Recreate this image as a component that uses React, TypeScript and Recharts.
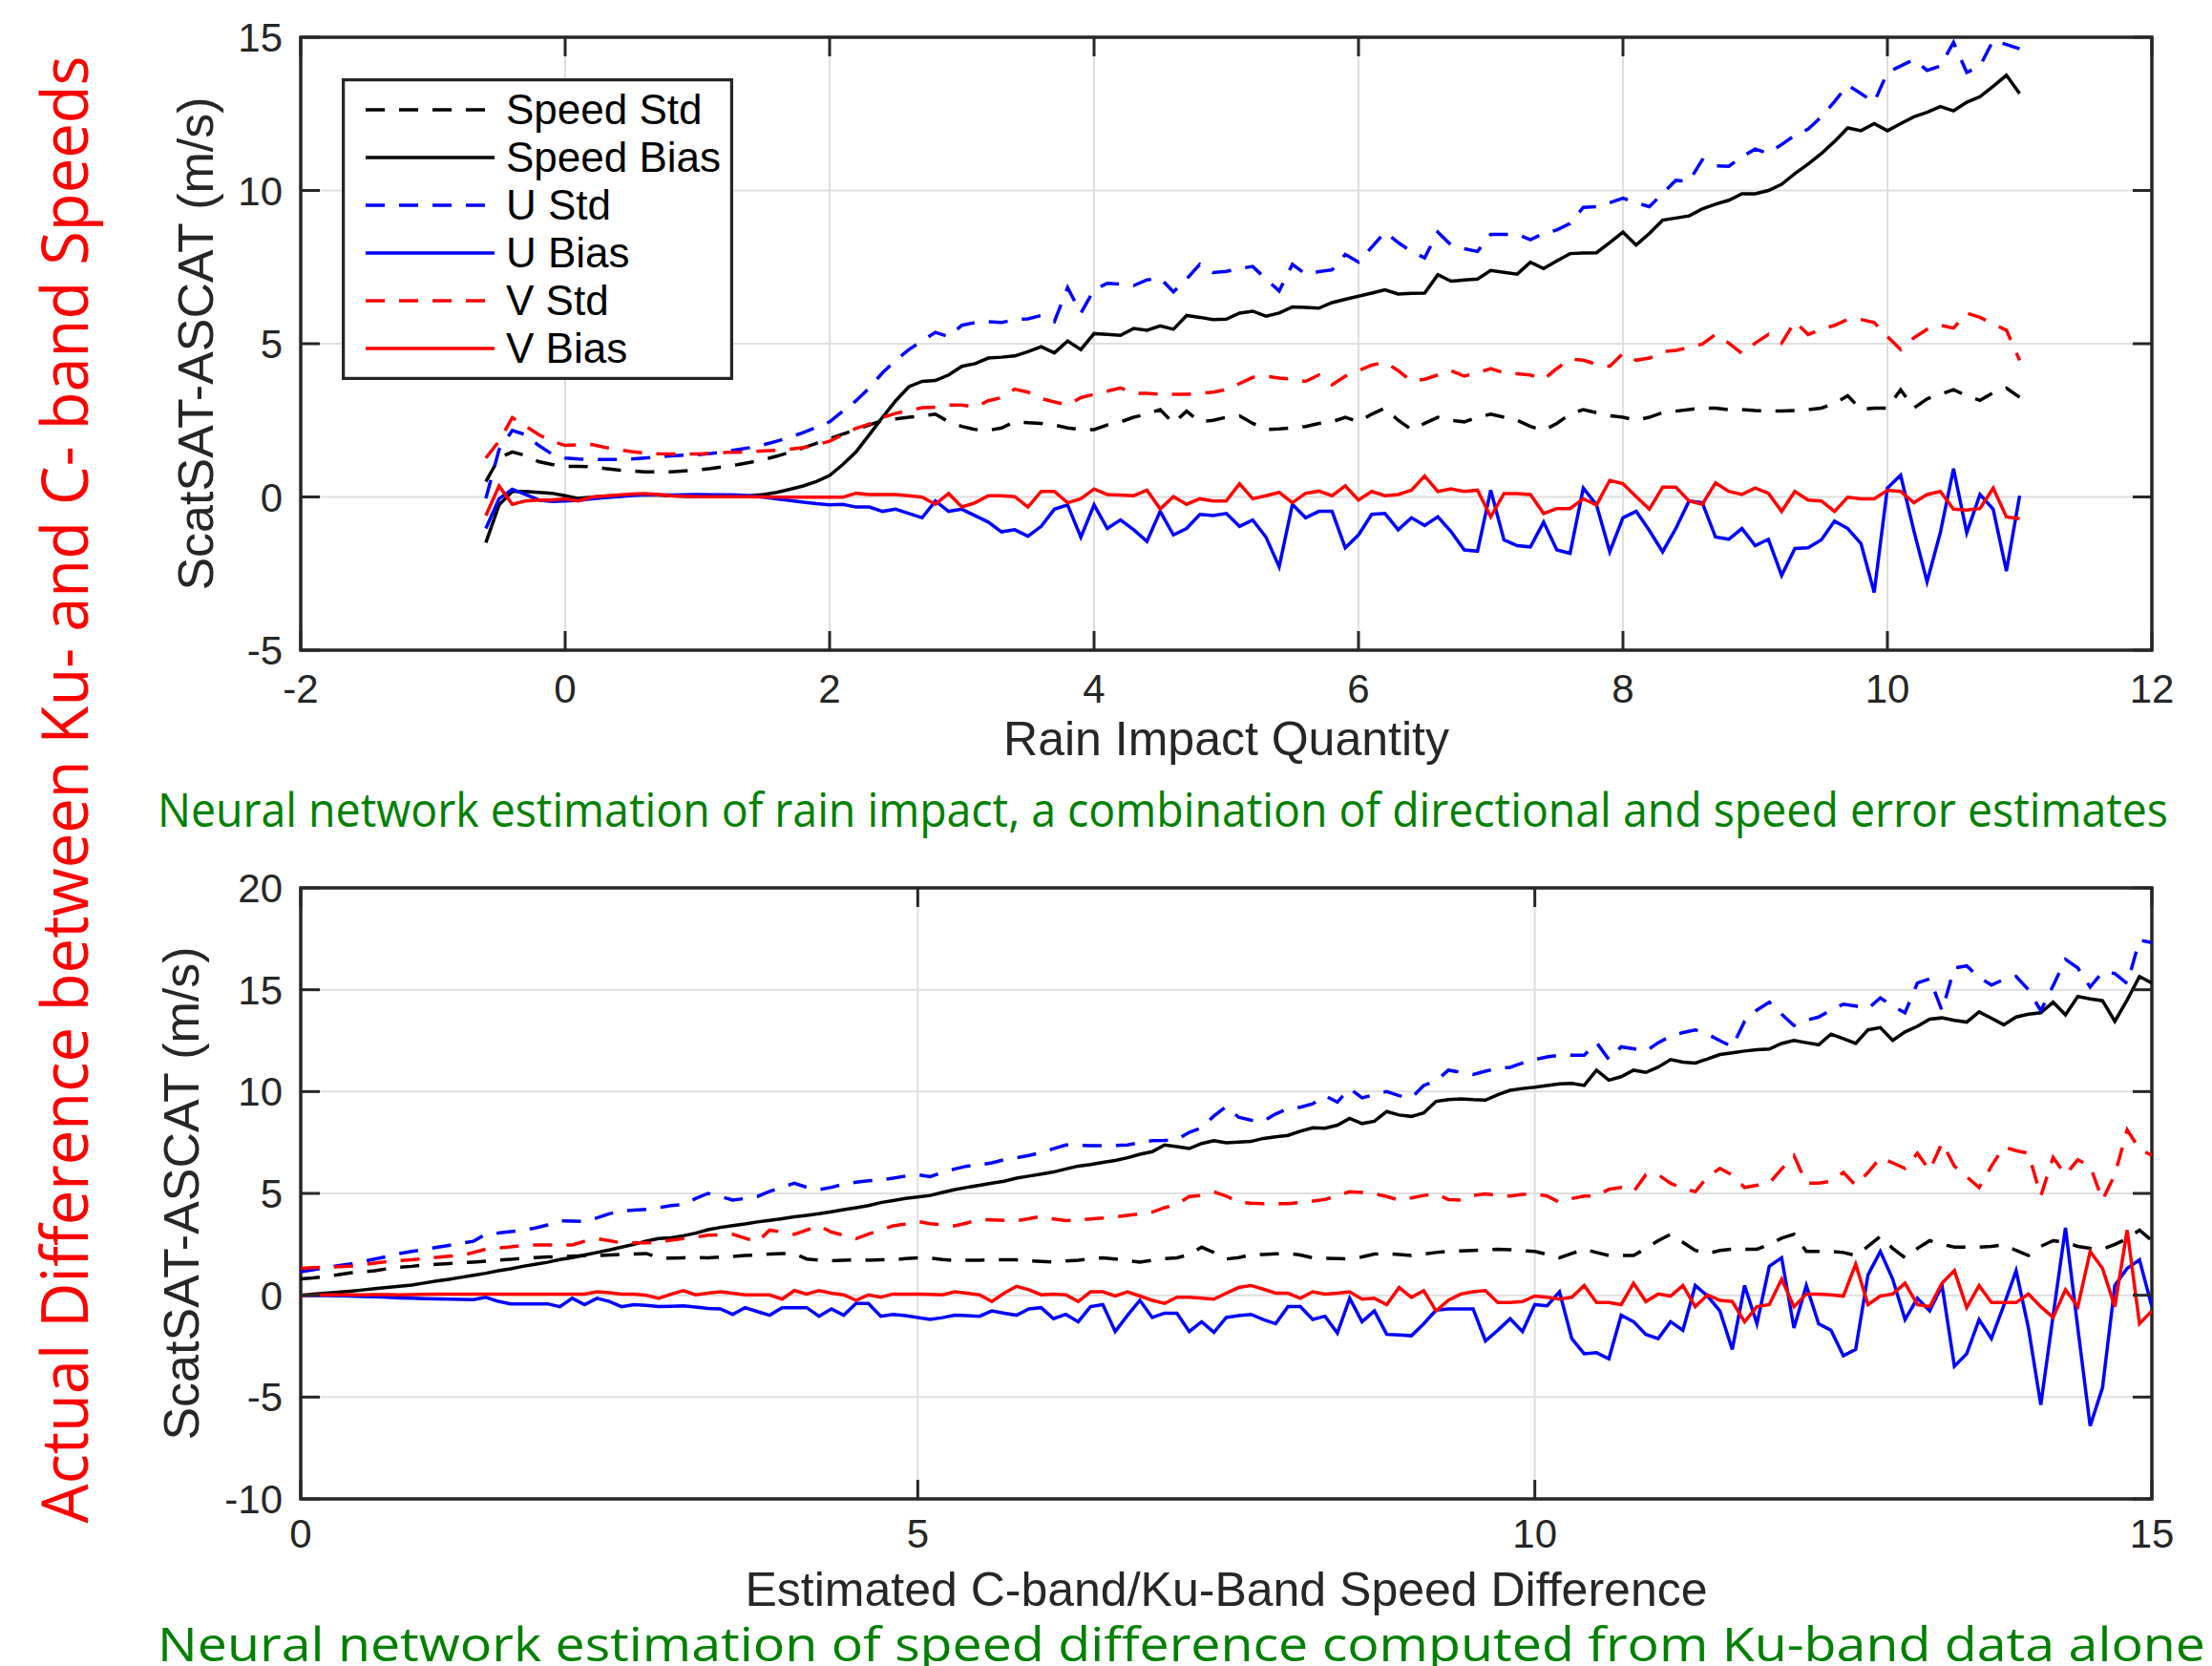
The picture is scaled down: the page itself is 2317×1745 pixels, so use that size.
import { LineChart, Line, XAxis, YAxis, CartesianGrid, ReferenceArea, Legend } from 'recharts';

const W = 2317;
const H = 1745;
const PLOT_LEFT = 315;
const PLOT_RIGHT = 2254;
const AXIS_COLOR = '#262626';
const AXIS_FONT = '"Liberation Sans", Arial, Helvetica, sans-serif';
const NOTE_FONT = '"Open Sans", "Noto Sans", sans-serif';

// ---- top panel: rain impact quantity ----
const rainX = [
  -0.6, -0.5, -0.4, -0.3, -0.2, -0.1, 0, 0.1, 0.2, 0.3,
  0.4, 0.5, 0.6, 0.7, 0.8, 0.9, 1.0, 1.1, 1.2, 1.3,
  1.4, 1.5, 1.6, 1.7, 1.8, 1.9, 2.0, 2.1, 2.2, 2.3,
  2.4, 2.5, 2.6, 2.7, 2.8, 2.9, 3.0, 3.1, 3.2, 3.3,
  3.4, 3.5, 3.6, 3.7, 3.8, 3.9, 4.0, 4.1, 4.2, 4.3,
  4.4, 4.5, 4.6, 4.7, 4.8, 4.9, 5.0, 5.1, 5.2, 5.3,
  5.4, 5.5, 5.6, 5.7, 5.8, 5.9, 6.0, 6.1, 6.2, 6.3,
  6.4, 6.5, 6.6, 6.7, 6.8, 6.9, 7.0, 7.1, 7.2, 7.3,
  7.4, 7.5, 7.6, 7.7, 7.8, 7.9, 8.0, 8.1, 8.2, 8.3,
  8.4, 8.5, 8.6, 8.7, 8.8, 8.9, 9.0, 9.1, 9.2, 9.3,
  9.4, 9.5, 9.6, 9.7, 9.8, 9.9, 10.0, 10.1, 10.2, 10.3,
  10.4, 10.5, 10.6, 10.7, 10.8, 10.9, 11.0,
];
const rainSpeedStd = [
  0.5, 1.27, 1.47, 1.35, 1.15, 1.06, 1.0, 1.0, 0.98, 0.93,
  0.88, 0.85, 0.82, 0.82, 0.82, 0.85, 0.88, 0.93, 0.99, 1.05,
  1.13, 1.22, 1.33, 1.46, 1.6, 1.75, 1.9, 2.05, 2.2, 2.35,
  2.5, 2.55, 2.6, 2.65, 2.7, 2.45, 2.3, 2.2, 2.17, 2.25,
  2.45, 2.42, 2.4, 2.35, 2.25, 2.2, 2.2, 2.35, 2.45, 2.6,
  2.7, 2.85, 2.4, 2.8, 2.45, 2.5, 2.6, 2.65, 2.4, 2.2,
  2.22, 2.25, 2.3, 2.4, 2.45, 2.6, 2.45, 2.7, 2.9, 2.5,
  2.2, 2.4, 2.6, 2.5, 2.45, 2.6, 2.7, 2.6, 2.5, 2.3,
  2.17, 2.4, 2.7, 2.85, 2.75, 2.65, 2.6, 2.5, 2.6, 2.75,
  2.8, 2.85, 2.9, 2.9, 2.85, 2.85, 2.82, 2.8, 2.8, 2.82,
  2.85, 2.9, 3.05, 3.3, 2.85, 2.9, 2.9, 3.5, 2.9, 3.2,
  3.35, 3.5, 3.3, 3.15, 3.4, 3.55, 3.25,
];
const rainSpeedBias = [
  -1.49, -0.26, 0.18, 0.18, 0.15, 0.12, 0.04, -0.05, -0.01, 0.02,
  0.04, 0.06, 0.07, 0.06, 0.04, 0.02, 0.01, 0.01, 0.01, 0.02,
  0.04, 0.08, 0.15, 0.25, 0.36, 0.5, 0.7, 1.06, 1.47, 2.03,
  2.6, 3.14, 3.6, 3.77, 3.8, 3.98, 4.26, 4.35, 4.53, 4.56,
  4.6, 4.74, 4.9, 4.7, 5.09, 4.81, 5.33, 5.3, 5.27, 5.5,
  5.44, 5.58, 5.47, 5.92, 5.86, 5.79, 5.8, 6.0, 6.06, 5.9,
  6.0, 6.2, 6.18, 6.16, 6.34, 6.45, 6.55, 6.65, 6.76, 6.62,
  6.64, 6.65, 7.25, 7.04, 7.08, 7.11, 7.39, 7.33, 7.27, 7.66,
  7.45, 7.7, 7.94, 7.96, 7.97, 8.3, 8.64, 8.22, 8.6, 9.03,
  9.1, 9.17, 9.4, 9.55, 9.68, 9.89, 9.89, 10.0, 10.2, 10.55,
  10.86, 11.2, 11.6, 12.04, 11.95, 12.18, 11.95, 12.18, 12.4, 12.55,
  12.74, 12.6, 12.88, 13.06, 13.4, 13.76, 13.16,
];
const rainUStd = [
  -0.05, 1.54, 2.17, 2.03, 1.68, 1.4, 1.27, 1.24, 1.22, 1.22,
  1.22, 1.24, 1.27, 1.3, 1.34, 1.36, 1.38, 1.42, 1.47, 1.54,
  1.61, 1.7, 1.82, 1.95, 2.1, 2.27, 2.45, 2.8, 3.14, 3.56,
  4.05, 4.46, 4.81, 5.09, 5.37, 5.23, 5.6, 5.69, 5.72, 5.69,
  5.79, 5.81, 5.92, 5.72, 6.83, 6.0, 6.76, 6.97, 6.94, 6.9,
  7.08, 7.14, 6.69, 7.11, 7.59, 7.32, 7.36, 7.45, 7.52, 7.11,
  6.72, 7.59, 7.27, 7.35, 7.41, 7.91, 7.66, 8.15, 8.64, 8.3,
  8.01, 7.8, 8.64, 8.22, 8.1, 8.01, 8.57, 8.57, 8.57, 8.39,
  8.6, 8.71, 8.92, 9.45, 9.47, 9.6, 9.75, 9.6, 9.47, 9.9,
  10.33, 10.3, 11.0, 10.8, 10.79, 11.1, 11.35, 11.21, 11.5, 11.8,
  12.0, 12.4, 12.9, 13.44, 13.16, 12.88, 13.85, 14.06, 14.27, 13.92,
  14.06, 14.83, 13.85, 14.06, 14.9, 14.76, 14.62,
];
const rainUBias = [
  -1.03, -0.06, 0.25, 0.08, -0.1, -0.15, -0.13, -0.11, -0.06, -0.02,
  0.01, 0.05, 0.08, 0.07, 0.06, 0.07, 0.08, 0.07, 0.07, 0.06,
  0.04, -0.01, -0.06, -0.12, -0.17, -0.22, -0.26, -0.24, -0.33, -0.33,
  -0.47, -0.4, -0.54, -0.68, -0.13, -0.47, -0.4, -0.61, -0.82, -1.14,
  -1.07, -1.28, -0.96, -0.4, -0.26, -1.31, -0.26, -1.03, -0.75, -1.07,
  -1.45, -0.47, -1.24, -1.03, -0.57, -0.61, -0.54, -0.96, -0.75, -1.31,
  -2.28, -0.24, -0.68, -0.47, -0.47, -1.66, -1.24, -0.57, -0.54, -1.07,
  -0.68, -0.93, -0.65, -1.13, -1.73, -1.77, 0.22, -1.4, -1.59, -1.63,
  -0.82, -1.73, -1.84, 0.29, -0.26, -1.79, -0.68, -0.47, -1.1, -1.79,
  -1.03, -0.13, -0.19, -1.31, -1.38, -1.03, -1.59, -1.38, -2.56, -1.68,
  -1.66, -1.4, -0.79, -1.03, -1.52, -3.12, 0.29, 0.71, -1.1, -2.77,
  -1.17, 0.92, -1.17, 0.08, -0.4, -2.42, 0.04,
];
const rainVStd = [
  1.27, 1.82, 2.59, 2.31, 2.03, 1.82, 1.68, 1.7, 1.71, 1.62,
  1.54, 1.48, 1.43, 1.41, 1.4, 1.4, 1.4, 1.42, 1.45, 1.46,
  1.47, 1.5, 1.52, 1.56, 1.61, 1.7, 1.82, 2.03, 2.24, 2.38,
  2.59, 2.73, 2.82, 2.91, 2.93, 3.0, 3.0, 2.93, 3.14, 3.24,
  3.52, 3.42, 3.21, 3.1, 3.0, 3.24, 3.35, 3.45, 3.56, 3.38,
  3.38, 3.35, 3.35, 3.35, 3.38, 3.42, 3.5, 3.7, 3.9, 3.94,
  3.88, 3.84, 3.77, 3.98, 3.66, 3.94, 4.12, 4.3, 4.4, 4.12,
  3.77, 3.84, 3.98, 4.12, 3.94, 4.05, 4.19, 4.05, 4.02, 3.98,
  3.84, 4.19, 4.5, 4.46, 4.33, 4.26, 4.68, 4.46, 4.53, 4.74,
  4.78, 4.88, 4.99, 5.3, 5.02, 4.68, 5.02, 5.3, 5.02, 5.72,
  5.3, 5.47, 5.6, 5.79, 5.79, 5.69, 5.23, 4.81, 5.19, 5.47,
  5.6, 5.51, 6.0, 5.86, 5.65, 5.44, 4.46,
];
const rainVBias = [
  -0.61, 0.36, -0.24, -0.13, -0.1, -0.1, -0.06, -0.13, -0.01, 0.03,
  0.06, 0.09, 0.11, 0.08, 0.04, 0.02, 0.01, 0.01, 0.01, 0.01,
  0.01, 0.0, -0.01, -0.01, -0.01, -0.01, -0.01, -0.01, 0.12, 0.08,
  0.08, 0.08, 0.04, -0.01, -0.24, 0.11, -0.33, -0.19, 0.04, 0.04,
  0.01, -0.33, 0.18, 0.18, -0.19, -0.06, 0.26, 0.08, 0.06, 0.04,
  0.22, -0.39, 0.01, -0.24, -0.06, -0.13, -0.13, 0.43, -0.06, 0.04,
  0.15, -0.19, 0.12, 0.19, 0.04, 0.36, -0.1, 0.18, 0.04, 0.08,
  0.22, 0.68, 0.18, 0.26, 0.18, 0.22, -0.65, 0.11, 0.11, 0.08,
  -0.54, -0.38, -0.38, -0.06, -0.26, 0.54, 0.43, 0.01, -0.4, 0.32,
  0.32, -0.13, -0.24, 0.46, 0.18, 0.08, 0.29, 0.12, -0.47, 0.18,
  -0.1, -0.13, -0.47, -0.01, -0.06, -0.06, 0.22, 0.18, -0.19, 0.08,
  0.18, -0.4, -0.43, -0.38, 0.29, -0.65, -0.71,
];

// ---- bottom panel: estimated C-band/Ku-band speed difference ----
const diffX = [
  0, 0.1, 0.2, 0.3, 0.4, 0.5, 0.6, 0.7, 0.8, 0.9,
  1.0, 1.1, 1.2, 1.3, 1.4, 1.5, 1.6, 1.7, 1.8, 1.9,
  2.0, 2.1, 2.2, 2.3, 2.4, 2.5, 2.6, 2.7, 2.8, 2.9,
  3.0, 3.1, 3.2, 3.3, 3.4, 3.5, 3.6, 3.7, 3.8, 3.9,
  4.0, 4.1, 4.2, 4.3, 4.4, 4.5, 4.6, 4.7, 4.8, 4.9,
  5.0, 5.1, 5.2, 5.3, 5.4, 5.5, 5.6, 5.7, 5.8, 5.9,
  6.0, 6.1, 6.2, 6.3, 6.4, 6.5, 6.6, 6.7, 6.8, 6.9,
  7.0, 7.1, 7.2, 7.3, 7.4, 7.5, 7.6, 7.7, 7.8, 7.9,
  8.0, 8.1, 8.2, 8.3, 8.4, 8.5, 8.6, 8.7, 8.8, 8.9,
  9.0, 9.1, 9.2, 9.3, 9.4, 9.5, 9.6, 9.7, 9.8, 9.9,
  10.0, 10.1, 10.2, 10.3, 10.4, 10.5, 10.6, 10.7, 10.8, 10.9,
  11.0, 11.1, 11.2, 11.3, 11.4, 11.5, 11.6, 11.7, 11.8, 11.9,
  12.0, 12.1, 12.2, 12.3, 12.4, 12.5, 12.6, 12.7, 12.8, 12.9,
  13.0, 13.1, 13.2, 13.3, 13.4, 13.5, 13.6, 13.7, 13.8, 13.9,
  14.0, 14.1, 14.2, 14.3, 14.4, 14.5, 14.6, 14.7, 14.8, 14.9,
  15.0,
];
const diffSpeedStd = [
  0.8, 0.85, 0.92, 1.0, 1.1, 1.15, 1.2, 1.3, 1.38, 1.42,
  1.48, 1.52, 1.56, 1.6, 1.63, 1.67, 1.72, 1.76, 1.82, 1.85,
  1.88, 1.9, 1.92, 1.94, 1.95, 1.98, 2.0, 2.02, 2.05, 1.84,
  1.82, 1.84, 1.86, 1.84, 1.88, 1.9, 1.95, 1.98, 2.02, 2.05,
  2.05, 1.78, 1.72, 1.7, 1.72, 1.74, 1.72, 1.74, 1.74, 1.8,
  1.84, 1.82, 1.75, 1.7, 1.72, 1.72, 1.74, 1.74, 1.74, 1.7,
  1.66, 1.63, 1.68, 1.72, 1.78, 1.84, 1.78, 1.7, 1.63, 1.72,
  1.8, 1.84, 2.0, 2.36, 2.1, 1.78, 1.85, 1.99, 2.0, 2.03,
  2.05, 1.98, 1.84, 1.82, 1.8, 1.78, 1.88, 2.02, 2.05, 2.0,
  1.95, 2.02, 2.1, 2.15, 2.18, 2.2, 2.22, 2.26, 2.24, 2.18,
  2.15, 2.0, 1.84, 2.05, 2.26, 2.1, 1.95, 1.95, 1.95, 2.3,
  2.68, 2.99, 2.6, 2.2, 2.05, 2.2, 2.26, 2.26, 2.26, 2.5,
  2.8, 2.99, 2.15, 2.15, 2.15, 2.1, 1.95, 2.4, 2.89, 2.3,
  1.84, 2.3, 2.68, 2.5, 2.36, 2.36, 2.36, 2.4, 2.47, 2.2,
  1.95, 2.4, 2.68, 2.6, 2.4, 2.3, 2.26, 2.5, 2.78, 3.2,
  2.68,
];
const diffSpeedBias = [
  0, 0.05, 0.1, 0.15, 0.2, 0.26, 0.32, 0.38, 0.44, 0.5,
  0.6, 0.7, 0.78, 0.88, 0.98, 1.08, 1.2, 1.3, 1.42, 1.52,
  1.62, 1.75, 1.85, 1.98, 2.1, 2.22, 2.36, 2.5, 2.66, 2.78,
  2.82, 2.92, 3.05, 3.22, 3.33, 3.42, 3.5, 3.6, 3.68, 3.76,
  3.85, 3.92, 4.0, 4.1, 4.2, 4.3, 4.4, 4.55, 4.65, 4.75,
  4.82, 4.9, 5.05, 5.19, 5.3, 5.4, 5.5, 5.6, 5.75, 5.85,
  5.95, 6.05, 6.2, 6.34, 6.42, 6.52, 6.62, 6.75, 6.92, 7.05,
  7.38, 7.3, 7.2, 7.45, 7.59, 7.49, 7.52, 7.55, 7.7, 7.78,
  7.85, 8.05, 8.22, 8.2, 8.35, 8.68, 8.43, 8.54, 9.02, 8.85,
  8.78, 8.95, 9.52, 9.6, 9.64, 9.6, 9.58, 9.85, 10.06, 10.15,
  10.21, 10.3, 10.38, 10.4, 10.3, 11.05, 10.56, 10.73, 11.05, 10.94,
  11.2, 11.57, 11.45, 11.4, 11.6, 11.82, 11.9, 11.99, 12.05, 12.09,
  12.36, 12.51, 12.4, 12.3, 12.82, 12.6, 12.36, 13.03, 13.14, 12.51,
  12.93, 13.2, 13.56, 13.62, 13.5, 13.41, 13.91, 13.6, 13.28, 13.66,
  13.8, 13.87, 14.39, 13.77, 14.67, 14.55, 14.46, 13.45, 14.5, 15.65,
  15.33,
];
const diffUStd = [
  1.15, 1.25, 1.35, 1.45, 1.53, 1.65, 1.78, 1.9, 2.05, 2.15,
  2.25, 2.35, 2.45, 2.55, 2.65, 3.0, 3.05, 3.12, 3.2, 3.3,
  3.45, 3.66, 3.64, 3.62, 3.8, 4.0, 4.14, 4.18, 4.22, 4.3,
  4.4, 4.46, 4.75, 5.0, 4.85, 4.67, 4.75, 4.85, 5.1, 5.3,
  5.5, 5.3, 5.19, 5.3, 5.45, 5.55, 5.62, 5.67, 5.75, 5.85,
  5.92, 5.82, 6.03, 6.2, 6.34, 6.4, 6.5, 6.65, 6.75, 6.86,
  7.0, 7.2, 7.38, 7.36, 7.34, 7.34, 7.36, 7.38, 7.5, 7.59,
  7.6, 7.64, 8.0, 8.22, 8.8, 9.27, 8.74, 8.6, 8.54, 8.9,
  9.16, 9.23, 9.4, 9.79, 9.48, 10.15, 9.69, 9.85, 10.0, 9.8,
  9.69, 10.3, 10.52, 11.05, 10.95, 10.84, 11.0, 11.15, 11.19, 11.4,
  11.57, 11.7, 11.78, 11.78, 11.78, 12.41, 11.57, 12.2, 12.1, 11.99,
  12.4, 12.72, 12.9, 13.03, 12.82, 12.5, 12.2, 13.45, 14.0, 14.39,
  13.8, 13.24, 13.5, 13.66, 14.0, 14.29, 14.2, 14.08, 14.6, 14.2,
  13.87, 15.33, 15.54, 13.97, 16.07, 16.17, 15.6, 15.23, 15.5, 15.65,
  15.0, 13.97, 15.2, 16.49, 16.07, 15.13, 15.86, 15.8, 15.3, 17.43,
  17.32,
];
const diffUBias = [
  0, -0.01, -0.02, -0.03, -0.04, -0.06, -0.08, -0.1, -0.13, -0.15,
  -0.17, -0.18, -0.19, -0.2, -0.21, -0.1, -0.3, -0.42, -0.42, -0.42,
  -0.42, -0.56, -0.15, -0.46, -0.15, -0.3, -0.56, -0.46, -0.5, -0.56,
  -0.54, -0.52, -0.58, -0.65, -0.67, -0.94, -0.61, -0.8, -0.98, -0.61,
  -0.61, -0.61, -1.03, -0.67, -0.98, -0.4, -0.4, -1.03, -0.94, -1.0,
  -1.09, -1.19, -1.1, -0.98, -1.0, -1.03, -0.77, -0.88, -0.98, -0.67,
  -0.61, -1.15, -0.94, -1.3, -0.56, -0.46, -1.78, -0.98, -0.25, -1.09,
  -0.88, -0.88, -1.78, -1.3, -1.82, -1.09, -1.0, -0.94, -1.19, -1.4,
  -0.56, -0.56, -1.19, -1.03, -1.86, -0.15, -1.3, -0.77, -1.92, -1.95,
  -1.99, -1.4, -0.73, -0.67, -0.67, -0.67, -2.24, -1.72, -1.15, -1.78,
  -0.46, -0.52, 0.17, -2.13, -2.87, -2.82, -3.12, -0.98, -1.3, -1.92,
  -2.13, -1.3, -1.72, 0.48, -0.04, -0.77, -2.66, 0.48, -1.4, 1.42,
  1.84, -1.61, 0.48, -1.4, -1.72, -2.97, -2.66, 1.0, 2.15, 0.79,
  -1.19, -0.15, -0.77, 0.48, -3.49, -2.87, -1.19, -2.13, -0.5, 1.21,
  -1.61, -5.38, -1.0, 3.31, -1.61, -6.42, -4.54, 0.48, 1.32, 1.74,
  -0.56,
];
const diffVStd = [
  1.32, 1.35, 1.38, 1.4, 1.42, 1.5, 1.58, 1.65, 1.7, 1.74,
  1.8, 1.86, 1.92, 1.95, 2.1, 2.26, 2.32, 2.38, 2.44, 2.47,
  2.47, 2.47, 2.47, 2.65, 2.78, 2.68, 2.57, 2.57, 2.57, 2.62,
  2.7, 2.78, 2.85, 2.95, 2.97, 2.99, 2.8, 2.62, 3.2, 3.1,
  2.99, 3.2, 3.41, 3.1, 2.95, 2.78, 3.0, 3.2, 3.41, 3.5,
  3.62, 3.51, 3.46, 3.41, 3.55, 3.72, 3.7, 3.68, 3.66, 3.76,
  3.87, 3.75, 3.66, 3.7, 3.75, 3.79, 3.85, 3.92, 4.0, 4.08,
  4.3, 4.46, 4.85, 4.9, 5.08, 4.87, 4.56, 4.52, 4.5, 4.5,
  4.5, 4.55, 4.62, 4.7, 4.9, 5.08, 5.05, 4.98, 4.85, 4.67,
  4.78, 4.9, 4.98, 4.7, 4.67, 4.9, 4.98, 4.9, 4.87, 4.95,
  4.98, 4.87, 4.56, 4.75, 4.87, 4.87, 5.2, 5.29, 5.08, 5.92,
  5.92, 5.5, 5.25, 5.08, 5.82, 6.23, 5.9, 5.29, 5.4, 5.5,
  6.2, 6.86, 5.5, 5.5, 5.6, 6.03, 5.4, 6.03, 6.76, 6.5,
  6.23, 6.97, 6.13, 7.49, 6.34, 5.82, 5.29, 6.34, 7.28, 7.1,
  6.97, 4.87, 6.76, 5.92, 6.65, 6.34, 4.67, 5.92, 8.12, 7.18,
  6.86,
];
const diffVBias = [
  0, 0.01, 0.02, 0.02, 0.02, 0.02, 0.03, 0.03, 0.02, 0.03,
  0.04, 0.05, 0.05, 0.06, 0.06, 0.06, 0.06, 0.06, 0.06, 0.06,
  0.06, 0.06, 0.06, 0.06, 0.17, 0.12, 0.06, 0.06, 0.0, -0.15,
  0.05, 0.23, 0.02, 0.1, 0.17, 0.1, 0.02, 0.02, 0.02, -0.19,
  0.23, 0.06, 0.23, 0.1, 0.02, -0.25, 0.02, -0.1, 0.06, 0.06,
  0.06, 0.04, 0.02, 0.17, 0.1, 0.02, -0.31, 0.1, 0.44, 0.27,
  0.02, 0.06, 0.02, -0.31, 0.17, 0.17, -0.04, 0.17, -0.04, -0.25,
  -0.4, -0.1, -0.1, -0.15, -0.19, 0.1, 0.38, 0.48, 0.3, 0.1,
  0.1, -0.15, 0.17, 0.06, 0.1, 0.17, -0.19, -0.15, -0.46, 0.38,
  -0.1, 0.23, -0.77, -0.25, 0.06, 0.17, 0.23, -0.36, -0.36, -0.31,
  -0.04, -0.1, -0.19, -0.1, 0.48, -0.36, -0.36, -0.46, 0.59, -0.31,
  0.06, -0.04, 0.48, -0.56, 0.02, -0.25, -0.31, -1.3, -0.56, -0.46,
  0.79, -0.56, 0.06, 0.06, 0.02, -0.04, 1.53, -0.46, -0.04, 0.06,
  0.59, -0.46, -0.56, 0.59, 1.21, -0.61, 0.48, -0.36, -0.36, -0.36,
  0.06, -0.56, -1.09, 0.27, -0.56, 2.15, 1.32, -0.56, 3.2, -1.4,
  -0.77,
];

const SERIES = [
  { key: 'speedStd', name: 'Speed Std', color: '#000000', dashed: true },
  { key: 'speedBias', name: 'Speed Bias', color: '#000000', dashed: false },
  { key: 'uStd', name: 'U Std', color: '#0000ff', dashed: true },
  { key: 'uBias', name: 'U Bias', color: '#0000ff', dashed: false },
  { key: 'vStd', name: 'V Std', color: '#ff0000', dashed: true },
  { key: 'vBias', name: 'V Bias', color: '#ff0000', dashed: false },
];
const DASH = '20 15';
const LINE_W = 3.5;

function buildRows(xs: number[], cols: Record<string, number[]>) {
  return xs.map((x, i) => {
    const row: Record<string, number> = { x };
    Object.keys(cols).forEach((k) => {
      row[k] = cols[k][i];
    });
    return row;
  });
}

const rainRows = buildRows(rainX, {
  speedStd: rainSpeedStd,
  speedBias: rainSpeedBias,
  uStd: rainUStd,
  uBias: rainUBias,
  vStd: rainVStd,
  vBias: rainVBias,
});

const diffRows = buildRows(diffX, {
  speedStd: diffSpeedStd,
  speedBias: diffSpeedBias,
  uStd: diffUStd,
  uBias: diffUBias,
  vStd: diffVStd,
  vBias: diffVBias,
});

function LegendBox() {
  return (
    <svg width={410} height={316} style={{ display: 'block' }}>
      <rect x={1.5} y={1.5} width={407} height={313} fill="#ffffff" stroke={AXIS_COLOR} strokeWidth={3.5} />
      {SERIES.map((s, i) => {
        const cy = 33 + i * 50;
        return (
          <g key={s.key}>
            <line
              x1={25}
              x2={s.dashed ? 152 : 160}
              y1={cy}
              y2={cy}
              stroke={s.color}
              strokeWidth={LINE_W}
              strokeDasharray={s.dashed ? DASH : undefined}
            />
            <text x={172} y={cy + 15} fontSize={44} fontFamily={AXIS_FONT} fill="#000">
              {s.name}
            </text>
          </g>
        );
      })}
    </svg>
  );
}

interface PanelProps {
  rows: Record<string, number>[];
  xDomain: [number, number];
  xTicks: number[];
  yDomain: [number, number];
  yTicks: number[];
  plotTop: number;
  plotBottom: number;
  tickLabelY: number;
  showLegend?: boolean;
}

function Panel({ rows, xDomain, xTicks, yDomain, yTicks, plotTop, plotBottom, tickLabelY, showLegend }: PanelProps) {
  const xTick = (p: any) => (
    <g>
      <line x1={p.x} x2={p.x} y1={plotBottom} y2={plotBottom - 20} stroke={AXIS_COLOR} strokeWidth={3} />
      <line x1={p.x} x2={p.x} y1={plotTop} y2={plotTop + 20} stroke={AXIS_COLOR} strokeWidth={3} />
      <text x={p.x} y={tickLabelY} textAnchor="middle" fontSize={42} fontFamily={AXIS_FONT} fill={AXIS_COLOR}>
        {p.payload.value}
      </text>
    </g>
  );
  const yTick = (p: any) => (
    <g>
      <line x1={PLOT_LEFT} x2={PLOT_LEFT + 20} y1={p.y} y2={p.y} stroke={AXIS_COLOR} strokeWidth={3} />
      <line x1={PLOT_RIGHT} x2={PLOT_RIGHT - 20} y1={p.y} y2={p.y} stroke={AXIS_COLOR} strokeWidth={3} />
      <text x={296} y={p.y + 15} textAnchor="end" fontSize={42} fontFamily={AXIS_FONT} fill={AXIS_COLOR}>
        {p.payload.value}
      </text>
    </g>
  );

  return (
    <div style={{ position: 'absolute', left: 0, top: 0 }}>
      <LineChart
        width={W}
        height={H}
        data={rows}
        margin={{ top: plotTop, right: W - PLOT_RIGHT, bottom: H - plotBottom - 100, left: 0 }}
      >
        <CartesianGrid stroke="#dedede" strokeWidth={2} />
        <XAxis
          type="number"
          dataKey="x"
          domain={xDomain}
          ticks={xTicks}
          interval={0}
          height={100}
          axisLine={false}
          tickLine={false}
          tick={xTick}
          allowDataOverflow
        />
        <YAxis
          type="number"
          domain={yDomain}
          ticks={yTicks}
          interval={0}
          width={PLOT_LEFT}
          axisLine={false}
          tickLine={false}
          tick={yTick}
          allowDataOverflow
        />
        <ReferenceArea
          x1={xDomain[0]}
          x2={xDomain[1]}
          y1={yDomain[0]}
          y2={yDomain[1]}
          fill="none"
          fillOpacity={0}
          stroke={AXIS_COLOR}
          strokeWidth={3.5}
        />
        {SERIES.map((s) => (
          <Line
            key={s.key}
            type="linear"
            dataKey={s.key}
            name={s.name}
            stroke={s.color}
            strokeWidth={LINE_W}
            strokeDasharray={s.dashed ? DASH : undefined}
            dot={false}
            isAnimationActive={false}
          />
        ))}
        {showLegend && (
          <Legend
            layout="vertical"
            align="center"
            verticalAlign="middle"
            content={() => <LegendBox />}
            wrapperStyle={{ left: 358, top: 82, width: 410, height: 316 }}
          />
        )}
      </LineChart>
    </div>
  );
}

export default function App() {
  const midX = (PLOT_LEFT + PLOT_RIGHT) / 2;
  return (
    <div style={{ position: 'absolute', left: 0, top: 0, width: W, height: H, overflow: 'hidden', background: '#fff' }}>
      <Panel
        rows={rainRows}
        xDomain={[-2, 12]}
        xTicks={[-2, 0, 2, 4, 6, 8, 10, 12]}
        yDomain={[-5, 15]}
        yTicks={[-5, 0, 5, 10, 15]}
        plotTop={39}
        plotBottom={681}
        tickLabelY={736}
        showLegend
      />
      <Panel
        rows={diffRows}
        xDomain={[0, 15]}
        xTicks={[0, 5, 10, 15]}
        yDomain={[-10, 20]}
        yTicks={[-10, -5, 0, 5, 10, 15, 20]}
        plotTop={930}
        plotBottom={1570}
        tickLabelY={1621}
      />
      <svg width={W} height={H} style={{ position: 'absolute', left: 0, top: 0, pointerEvents: 'none' }}>
        <text x={midX} y={791} textAnchor="middle" fontSize={50} fontFamily={AXIS_FONT} fill={AXIS_COLOR}>
          Rain Impact Quantity
        </text>
        <text x={midX} y={1682} textAnchor="middle" fontSize={50} fontFamily={AXIS_FONT} fill={AXIS_COLOR}>
          Estimated C-band/Ku-Band Speed Difference
        </text>
        <text
          transform="translate(205,360) rotate(-90)"
          textAnchor="middle"
          dominantBaseline="central"
          fontSize={52}
          fontFamily={AXIS_FONT}
          fill={AXIS_COLOR}
        >
          ScatSAT-ASCAT (m/s)
        </text>
        <text
          transform="translate(190,1250) rotate(-90)"
          textAnchor="middle"
          dominantBaseline="central"
          fontSize={52}
          fontFamily={AXIS_FONT}
          fill={AXIS_COLOR}
        >
          ScatSAT-ASCAT (m/s)
        </text>
        <text
          x={165}
          y={866}
          fontSize={49}
          fontFamily={NOTE_FONT}
          fill="#008000"
          textLength={2106}
          lengthAdjust="spacingAndGlyphs"
        >
          Neural network estimation of rain impact, a combination of directional and speed error estimates
        </text>
        <text
          x={165}
          y={1740}
          fontSize={49}
          fontFamily={NOTE_FONT}
          fill="#008000"
          textLength={2145}
          lengthAdjust="spacingAndGlyphs"
        >
          Neural network estimation of speed difference computed from Ku-band data alone
        </text>
        <text
          transform="translate(92,827) rotate(-90)"
          textAnchor="middle"
          fontSize={68}
          fontFamily={NOTE_FONT}
          fill="#ff0000"
          textLength={1537}
          lengthAdjust="spacingAndGlyphs"
        >
          Actual Difference between Ku- and C- band Speeds
        </text>
      </svg>
    </div>
  );
}
